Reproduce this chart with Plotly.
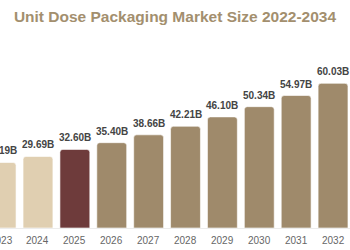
import plotly.graph_objects as go

years = [2023, 2024, 2025, 2026, 2027, 2028, 2029, 2030, 2031, 2032]
values = [27.19, 29.69, 32.60, 35.40, 38.66, 42.21, 46.10, 50.34, 54.97, 60.03]
labels = [f"{v:.2f}B" for v in values]

light = "#E0CFB1"
dark = "#6E3B3B"
mid = "#9F8A6B"
colors = [light if y < 2025 else (dark if y == 2025 else mid) for y in years]

fig = go.Figure(go.Bar(
    x=years, y=values, width=0.81,
    marker=dict(color=colors, line=dict(color="rgba(255,255,255,0.6)", width=1)),
    hoverinfo="skip",
))

for x, v, t in zip(years, values, labels):
    fig.add_annotation(x=x, y=v, text=f"<b>{t}</b>", showarrow=False,
                       yanchor="bottom", yshift=4,
                       font=dict(size=10, color="#444444", family="Liberation Sans, Arial"))
    fig.add_annotation(x=x, y=0, text=str(x), showarrow=False,
                       yanchor="top", yshift=-5,
                       font=dict(size=10, color="#666666", family="Liberation Sans, Arial"))

fig.update_layout(
    width=350, height=250,
    margin=dict(l=0, r=0, t=0, b=22),
    paper_bgcolor="white", plot_bgcolor="white",
    barcornerradius=3,
    showlegend=False,
    font=dict(family="Liberation Sans, Arial"),
    title=dict(text="<b>Unit Dose Packaging Market Size 2022-2034</b>",
               x=0.5, xanchor="center", y=0.932, yanchor="middle",
               yref="container",
               font=dict(size=15.5, color="#A38F6E", family="Liberation Sans, Arial")),
    xaxis=dict(range=[2022.97, 2032.46], showticklabels=False, showgrid=False,
               zeroline=False, showline=True, linecolor="#ECECEC", linewidth=1,
               ticks=""),
    yaxis=dict(range=[0, 94.6], visible=False, showgrid=False),
)

fig.write_html("out.html")
